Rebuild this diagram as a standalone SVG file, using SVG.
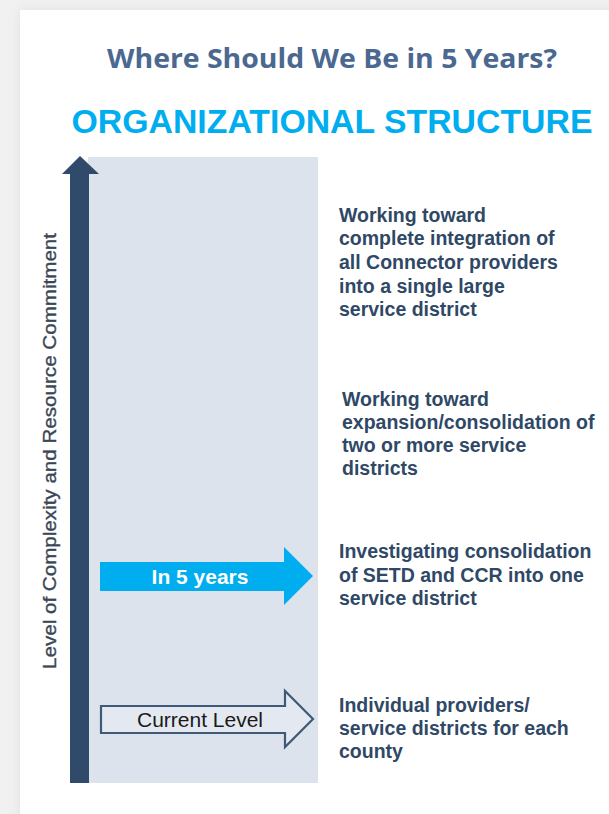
<svg xmlns="http://www.w3.org/2000/svg" width="609" height="814" viewBox="0 0 609 814">
  <defs>
    <filter id="cardShadow" x="-10%" y="-10%" width="120%" height="120%">
      <feGaussianBlur stdDeviation="6"/>
    </filter>
    <style>
      .title { font-family: "Open Sans", "Liberation Sans", sans-serif; font-weight: 700; font-size: 26px; fill: #4a6890; }
      .heading { font-family: "Liberation Sans", Arial, sans-serif; font-weight: 700; font-size: 33px; fill: #00aeef; }
      .axis { font-family: "Liberation Sans", Arial, sans-serif; font-size: 18px; fill: #3a4656; stroke: #3a4656; stroke-width: 0.35px; }
      .desc { font-family: "Liberation Sans", Arial, sans-serif; font-weight: 700; font-size: 19.5px; fill: #2f4866; }
      .shaft { fill: #2f4a6a; }
      .panel { fill: #dce3ec; }
    </style>
  </defs>

  <!-- page background and card -->
  <rect x="0" y="0" width="609" height="814" fill="#f1f1f1"/>
  <rect x="20" y="10" width="600" height="820" fill="#cfcfcf" filter="url(#cardShadow)" opacity="0.5"/>
  <rect x="20" y="10" width="600" height="820" fill="#ffffff"/>

  <!-- titles -->
  <g id="title">
    <text class="title" x="332" y="68" text-anchor="middle" textLength="450" lengthAdjust="spacingAndGlyphs">Where Should We Be in 5 Years?</text>
  </g>
  <g id="heading">
    <text class="heading" x="332" y="133" text-anchor="middle" textLength="521" lengthAdjust="spacingAndGlyphs">ORGANIZATIONAL STRUCTURE</text>
  </g>

  <!-- shaded scale panel -->
  <rect class="panel" x="88" y="157" width="230" height="626"/>

  <!-- vertical axis arrow -->
  <g id="axis">
    <path class="shaft" d="M70 783 L70 174 L62 174 L80 156 L99 174 L89 174 L89 783 Z"/>
    <text class="axis" transform="translate(56 451) rotate(-90)" text-anchor="middle" textLength="436" lengthAdjust="spacingAndGlyphs">Level of Complexity and Resource Commitment</text>
  </g>

  <!-- level markers -->
  <g id="in-5-years">
    <path d="M100 562 L284 562 L284 547 L313 576 L284 605 L284 591 L100 591 Z" fill="#00aeef"/>
    <text x="200" y="584" text-anchor="middle" font-family="Liberation Sans, Arial, sans-serif" font-weight="700" font-size="21" fill="#ffffff">In 5 years</text>
  </g>
  <g id="current-level">
    <path d="M101 706 L285 706 L285 691 L313 719 L285 747 L285 733 L101 733 Z" fill="#e4e9f1" stroke="#3f5a78" stroke-width="2.2" stroke-linejoin="miter"/>
    <text x="200" y="727" text-anchor="middle" font-family="Liberation Sans, Arial, sans-serif" font-size="21" fill="#1a1a1a">Current Level</text>
  </g>

  <!-- descriptions of each level -->
  <g id="level-4">
    <text class="desc" x="339" y="222">Working toward</text>
    <text class="desc" x="339" y="245">complete integration of</text>
    <text class="desc" x="339" y="269">all Connector providers</text>
    <text class="desc" x="339" y="293">into a single large</text>
    <text class="desc" x="339" y="316">service district</text>
  </g>
  <g id="level-3">
    <text class="desc" x="342" y="406">Working toward</text>
    <text class="desc" x="342" y="429">expansion/consolidation of</text>
    <text class="desc" x="342" y="452">two or more service</text>
    <text class="desc" x="342" y="475">districts</text>
  </g>
  <g id="level-2">
    <text class="desc" x="339" y="558">Investigating consolidation</text>
    <text class="desc" x="339" y="582">of SETD and CCR into one</text>
    <text class="desc" x="339" y="605">service district</text>
  </g>
  <g id="level-1">
    <text class="desc" x="339" y="712">Individual providers/</text>
    <text class="desc" x="339" y="735">service districts for each</text>
    <text class="desc" x="339" y="758">county</text>
  </g>
</svg>
